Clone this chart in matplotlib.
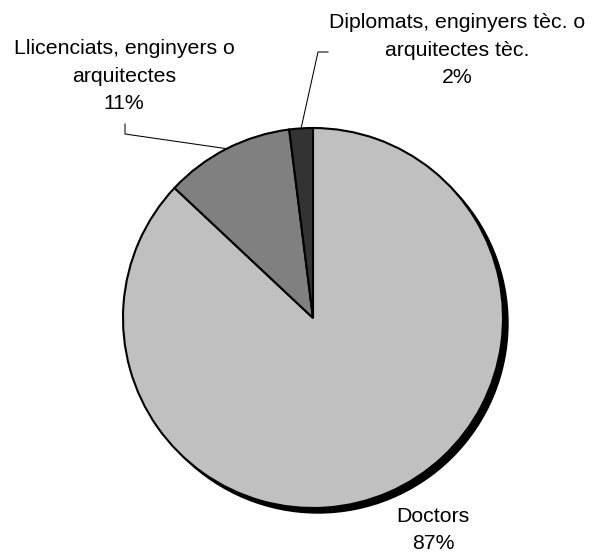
import numpy as np
import matplotlib
matplotlib.use("Agg")
import matplotlib.pyplot as plt
from matplotlib.patches import Circle

plt.rcParams['font.family'] = ['Liberation Sans', 'DejaVu Sans']

labels = ["Doctors", "Llicenciats, enginyers o\narquitectes", "Diplomats, enginyers tèc. o\narquitectes tèc."]
values = [87, 11, 2]
colors = ["#C0C0C0", "#808080", "#333333"]

W, H = 596, 554
fig = plt.figure(figsize=(W / 100, H / 100), dpi=100)
ax = fig.add_axes([0, 0, 1, 1])

cx, cy, r = 313, H - 318, 190

# black shadow under the pie
ax.add_patch(Circle((cx + 5, cy - 5), r, facecolor="black", edgecolor="black", zorder=1))

wedges, _ = ax.pie(values, colors=colors, startangle=90, counterclock=False,
                   center=(cx, cy), radius=r, frame=True,
                   wedgeprops=dict(edgecolor="black", linewidth=1.5))
for w in wedges:
    w.set_zorder(2)
ax.set_xlim(0, W)
ax.set_ylim(0, H)
ax.axis("off")

# label positions (centre of text block) and leader elbows, in pixels
text_pos = [(433, 530), (124, 76), (457, 50)]
elbows = [None, [(125, 134), (125, 124)], [(318, 52), (328, 52)]]

for i, (w, lab, v) in enumerate(zip(wedges, labels, values)):
    tx, ty = text_pos[i]
    ax.text(tx, H - ty, f"{lab}\n{v}%", ha="center", va="center",
            fontsize=15.3, linespacing=1.56, zorder=5)
    if elbows[i] is not None:
        mid = np.deg2rad((w.theta1 + w.theta2) / 2)
        px = cx + r * np.cos(mid)
        py = cy + r * np.sin(mid)
        xs = [px] + [e[0] for e in elbows[i]]
        ys = [py] + [H - e[1] for e in elbows[i]]
        ax.plot(xs, ys, color="black", linewidth=0.75, zorder=4)

fig.savefig("out.png", dpi=100, facecolor="white")
